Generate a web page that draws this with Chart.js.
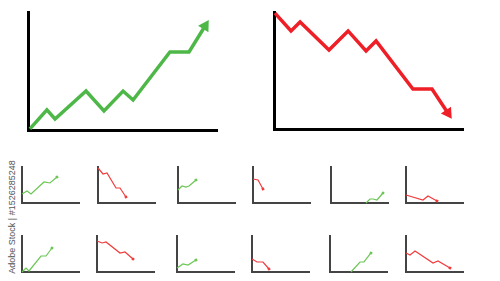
<!DOCTYPE html>
<html>
<head>
  <title>Trend charts</title>
  <script src="https://cdn.jsdelivr.net/npm/chart.js@4"></script>
  <style>
    body { margin: 0; background: #fff; width: 500px; height: 281px; overflow: hidden; position: relative; }
    canvas { position: absolute; }
    #side {
      position: absolute; left: 12px; top: 217px;
      transform: translate(-50%, -50%) rotate(-90deg);
      font: 9px "Liberation Sans", Arial, sans-serif; color: #555; white-space: nowrap;
    }
  </style>
</head>
<body>
  <div id="side">Adobe Stock | #1526285248</div>

  <script>
    // values in percent of each axis (x: along the axis, y: up the axis)
    const bigUpX = [1, 10, 14.3, 30.7, 40.2, 50.3, 55.6, 75.1, 85.2, 93.7];
    const bigUpY = [1, 17, 9.3, 33, 16.1, 33, 25.4, 66.1, 66.1, 88.1];
    const bigDownX = [0.5, 9, 13.8, 29.1, 39.2, 48.7, 54, 73.5, 83.6, 92];
    const bigDownY = [99.1, 83.8, 91.5, 67.5, 83.8, 66.7, 75.2, 34.2, 34.2, 13.7];

    const aX = [0, 8.8, 15.8, 38.6, 49.1, 61.4];
    const aY = [25, 33.3, 25, 58.3, 55.6, 72.2];
    const bX = [0, 8.8, 15.8, 31.6, 38.6, 49.1];
    const bY = [97.2, 80.6, 83.3, 41.7, 41.7, 16.7];
    const cX = [0, 7, 14, 19.3, 31.6];
    const cY = [36.1, 47.2, 44.4, 47.2, 63.9];
    const dX = [0, 8.8, 17.5];
    const dY = [66.7, 63.9, 38.9];
    const eX = [61.4, 68.4, 73.7, 80.7, 91.2];
    const eY = [0, 11.1, 11.1, 8.3, 27.8];
    const fX = [0, 29.8, 38.6, 54.4];
    const fY = [22.2, 8.3, 19.4, 5.6];

    const gX = [0, 7, 12.3, 33.3, 42.1, 52.6];
    const gY = [0, 11.1, 2.8, 44.4, 44.4, 66.7];
    const hX = [0, 8.8, 15.8, 40.4, 49.1, 63.2];
    const hY = [86.1, 80.6, 83.3, 52.8, 55.6, 36.1];
    const iX = [0, 10.5, 19.3, 33.3];
    const iY = [11.1, 22.2, 19.4, 33.3];
    const jX = [0, 8.8, 19.3, 29.8];
    const jY = [36.1, 27.8, 27.8, 8.3];
    const kX = [36.8, 52.6, 59.6, 71.9];
    const kY = [0, 27.8, 27.8, 52.8];
    const lX = [0, 7, 15.8, 47.4, 56.1, 77.2];
    const lY = [52.8, 47.2, 58.3, 25, 30.6, 11.1];

    const GREEN = '#4db848';
    const RED = '#ee1f26';
    const GREEN_S = '#6cc655';
    const RED_S = '#f03c3c';
    const PAD = 10;

    function makeChart(xs, ys, left, bottom, w, h, color, lineW, axisColor, axisW, headStyle, headR) {
      const canvas = document.createElement('canvas');
      canvas.width = w + 2 * PAD;
      canvas.height = h + 2 * PAD;
      canvas.style.left = (left - PAD) + 'px';
      canvas.style.top = (bottom - h - PAD) + 'px';
      document.body.appendChild(canvas);

      const pts = xs.map((x, i) => ({ x: x, y: ys[i] }));
      const last = pts.length - 1;

      new Chart(canvas.getContext('2d'), {
        type: 'line',
        data: {
          datasets: [{
            data: pts,
            borderColor: color,
            backgroundColor: color,
            borderWidth: lineW,
            tension: 0,
            borderJoinStyle: 'miter',
            clip: false,
            pointStyle: headStyle,
            pointBorderWidth: 0,
            pointRadius: ctx => ctx.dataIndex === last ? headR : 0,
            pointRotation: ctx => {
              const i = ctx.dataIndex;
              if (i < 1) return 0;
              const sx = ctx.chart.scales.x, sy = ctx.chart.scales.y;
              const d = ctx.dataset.data;
              const dx = sx.getPixelForValue(d[i].x) - sx.getPixelForValue(d[i - 1].x);
              const dy = sy.getPixelForValue(d[i].y) - sy.getPixelForValue(d[i - 1].y);
              return Math.atan2(dx, -dy) * 180 / Math.PI;
            }
          }]
        },
        options: {
          responsive: false,
          animation: false,
          events: [],
          layout: { padding: PAD },
          plugins: { legend: { display: false }, tooltip: { enabled: false } },
          scales: {
            x: {
              type: 'linear', min: 0, max: 100,
              grid: { display: false, drawTicks: false },
              ticks: { display: false },
              border: { display: true, color: axisColor, width: axisW }
            },
            y: {
              type: 'linear', min: 0, max: 100,
              grid: { display: false, drawTicks: false },
              ticks: { display: false },
              border: { display: true, color: axisColor, width: axisW }
            }
          }
        }
      });
    }

    // big charts
    makeChart(bigUpX, bigUpY, 28, 130, 189, 118, GREEN, 3.5, '#000', 3, 'triangle', 7);
    makeChart(bigDownX, bigDownY, 274, 129, 189, 117, RED, 3.5, '#000', 3, 'triangle', 7);

    // small charts, row 1
    makeChart(aX, aY, 22, 203, 57, 36, GREEN_S, 1.2, '#444', 2, 'rect', 1.8);
    makeChart(bX, bY, 98, 203, 57, 36, RED_S, 1.2, '#444', 2, 'rect', 1.8);
    makeChart(cX, cY, 178, 203, 57, 36, GREEN_S, 1.2, '#444', 2, 'rect', 1.8);
    makeChart(dX, dY, 253, 203, 57, 36, RED_S, 1.2, '#444', 2, 'rect', 1.8);
    makeChart(eX, eY, 331, 203, 57, 36, GREEN_S, 1.2, '#444', 2, 'rect', 1.8);
    makeChart(fX, fY, 406, 203, 57, 36, RED_S, 1.2, '#444', 2, 'rect', 1.8);

    // small charts, row 2
    makeChart(gX, gY, 22, 272, 57, 36, GREEN_S, 1.2, '#444', 2, 'rect', 1.8);
    makeChart(hX, hY, 97, 272, 57, 36, RED_S, 1.2, '#444', 2, 'rect', 1.8);
    makeChart(iX, iY, 177, 272, 57, 36, GREEN_S, 1.2, '#444', 2, 'rect', 1.8);
    makeChart(jX, jY, 252, 272, 57, 36, RED_S, 1.2, '#444', 2, 'rect', 1.8);
    makeChart(kX, kY, 330, 272, 57, 36, GREEN_S, 1.2, '#444', 2, 'rect', 1.8);
    makeChart(lX, lY, 406, 272, 57, 36, RED_S, 1.2, '#444', 2, 'rect', 1.8);
  </script>
</body>
</html>
